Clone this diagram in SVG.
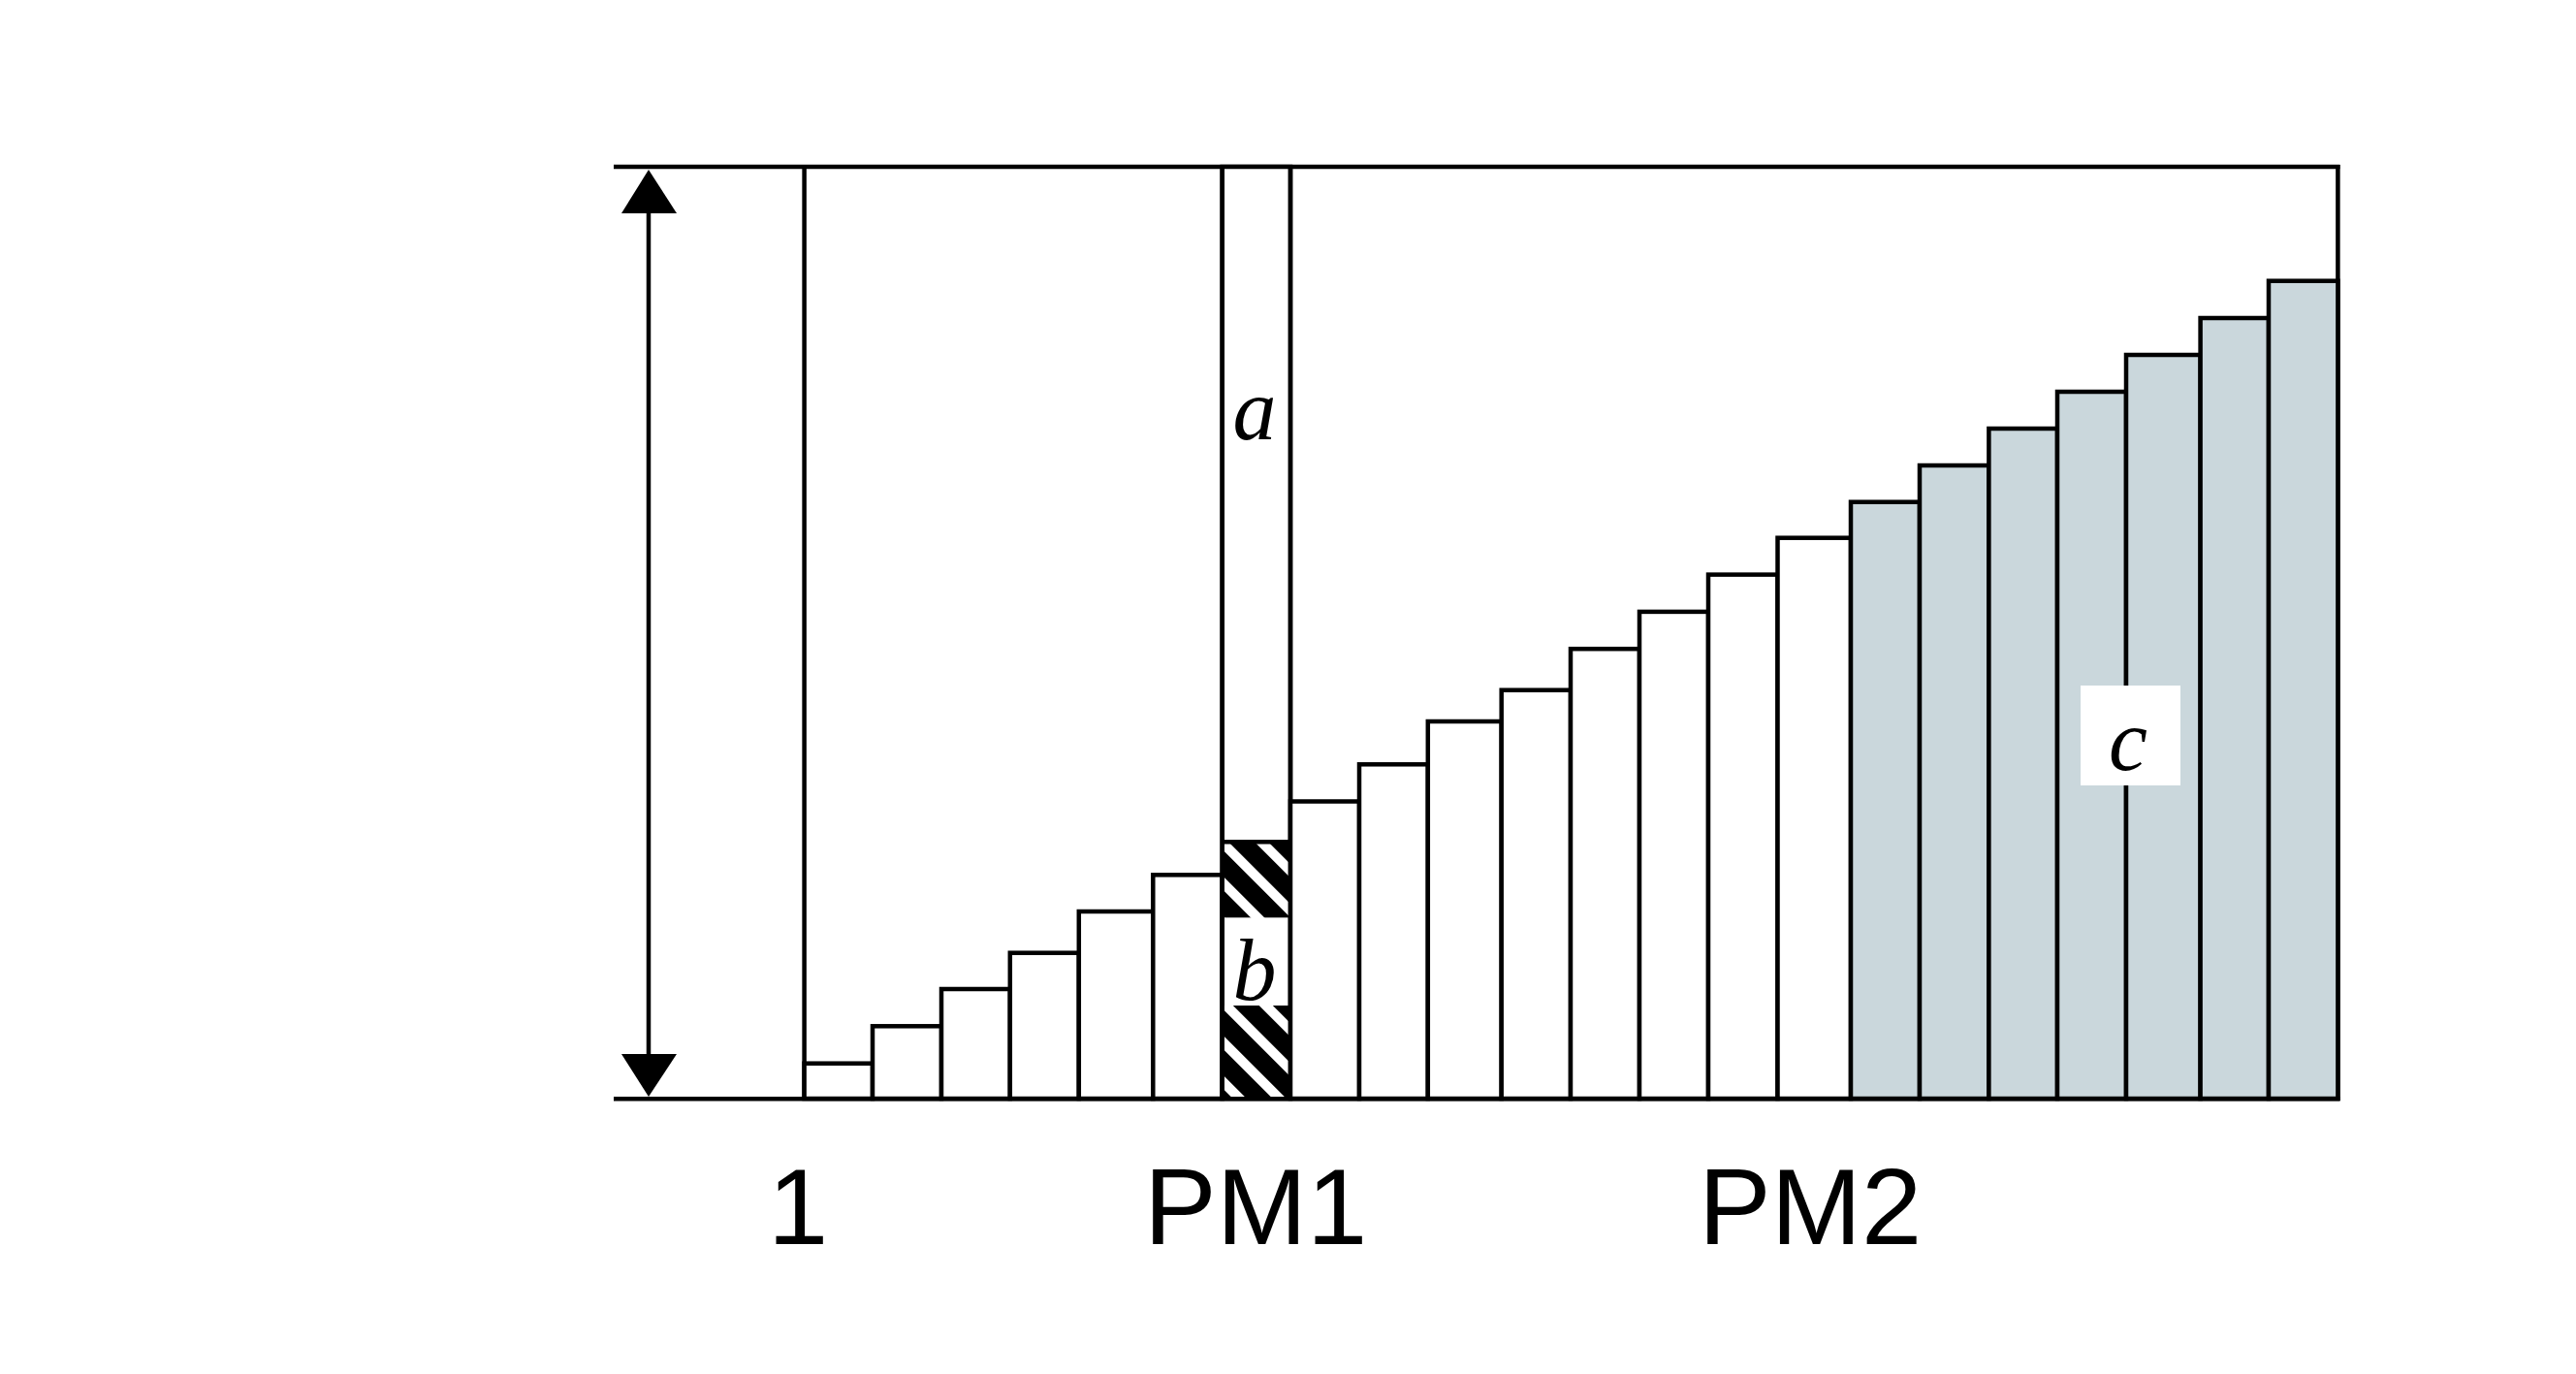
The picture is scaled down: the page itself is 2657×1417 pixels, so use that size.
<svg xmlns="http://www.w3.org/2000/svg" width="2657" height="1417" viewBox="0 0 2657 1417">
<style>
.bar{fill:#fff;stroke:#000;stroke-width:4.5}
.gray{fill:#cad7dc;stroke:#000;stroke-width:4.5}
.ln{stroke:#000;stroke-width:4.5;fill:none}
.it{font-family:"Liberation Serif","Times New Roman",serif;font-style:italic;font-size:90px;fill:#000;text-anchor:middle}
.lab{font-family:"Liberation Sans",Arial,sans-serif;font-size:112px;fill:#000}
</style>
<defs>
<pattern id="hatch" patternUnits="userSpaceOnUse" width="29" height="29" patternTransform="rotate(45)">
<rect width="29" height="29" fill="#000"/>
<rect y="8" width="29" height="10" fill="#fff"/>
</pattern>
</defs>
<rect width="2657" height="1417" fill="#fff"/>
<g id="frame">
<line class="ln" x1="633" y1="172" x2="2413.5" y2="172"/>
<line class="ln" x1="2411.4" y1="170" x2="2411.4" y2="1135"/>
<line class="ln" x1="829.6" y1="172" x2="829.6" y2="1133"/>
</g>
<g id="bars-left">
<rect class="bar" x="829.6" y="1096.7" width="70.4" height="36.3"/>
<rect class="bar" x="900" y="1058.3" width="71" height="74.7"/>
<rect class="bar" x="971" y="1020" width="70.8" height="113"/>
<rect class="bar" x="1041.8" y="982.7" width="71" height="150.3"/>
<rect class="bar" x="1112.8" y="940" width="76.5" height="193"/>
<rect class="bar" x="1189.3" y="902.3" width="71.4" height="230.7"/>
</g>
<g id="pm1-column">
<rect class="bar" x="1260.7" y="172" width="70.3" height="961"/>
<rect x="1260.7" y="868.3" width="70.3" height="78" fill="url(#hatch)"/>
<rect x="1260.7" y="1037" width="70.3" height="96" fill="url(#hatch)"/>
<line class="ln" x1="1260.7" y1="868.3" x2="1331" y2="868.3"/>
<line class="ln" x1="1260.7" y1="172" x2="1260.7" y2="1133"/>
<line class="ln" x1="1331" y1="172" x2="1331" y2="1133"/>
<text class="it" x="1294" y="453">a</text>
<text class="it" x="1294" y="1031">b</text>
</g>
<g id="bars-right">
<rect class="bar" x="1331" y="826.5" width="71" height="306.5"/>
<rect class="bar" x="1402" y="788.3" width="70.8" height="344.7"/>
<rect class="bar" x="1472.8" y="744" width="75.9" height="389"/>
<rect class="bar" x="1548.7" y="711.7" width="71.3" height="421.3"/>
<rect class="bar" x="1620" y="669.2" width="71" height="463.8"/>
<rect class="bar" x="1691" y="630.9" width="71" height="502.1"/>
<rect class="bar" x="1762" y="592.6" width="71.5" height="540.4"/>
<rect class="bar" x="1833.5" y="554.7" width="75.5" height="578.3"/>
</g>
<g id="bars-gray">
<rect class="gray" x="1909" y="517.7" width="71" height="615.3"/>
<rect class="gray" x="1980" y="480" width="71.4" height="653"/>
<rect class="gray" x="2051.4" y="442" width="70.6" height="691"/>
<rect class="gray" x="2122" y="404" width="71" height="729"/>
<rect class="gray" x="2193" y="366" width="76.6" height="767"/>
<rect class="gray" x="2269.6" y="328" width="70.4" height="805"/>
<rect class="gray" x="2340" y="289.7" width="71.4" height="843.3"/>
</g>
<g id="label-c">
<rect x="2146" y="707" width="103" height="103" fill="#fff"/>
<text class="it" x="2195" y="794">c</text>
</g>
<g id="baseline">
<line class="ln" x1="633" y1="1133.3" x2="2413.5" y2="1133.3"/>
</g>
<g id="connectors">
<line class="ln" x1="669" y1="215" x2="669" y2="1092"/>
<polygon points="669,175 641,220 698,220" fill="#000"/>
<polygon points="669,1131 641,1087 698,1087" fill="#000"/>
</g>
<g id="axis-labels">
<text class="lab" x="792" y="1282.5">1</text>
<text class="lab" x="1180" y="1282.5">PM1</text>
<text class="lab" x="1752" y="1282.5">PM2</text>
</g>
</svg>
